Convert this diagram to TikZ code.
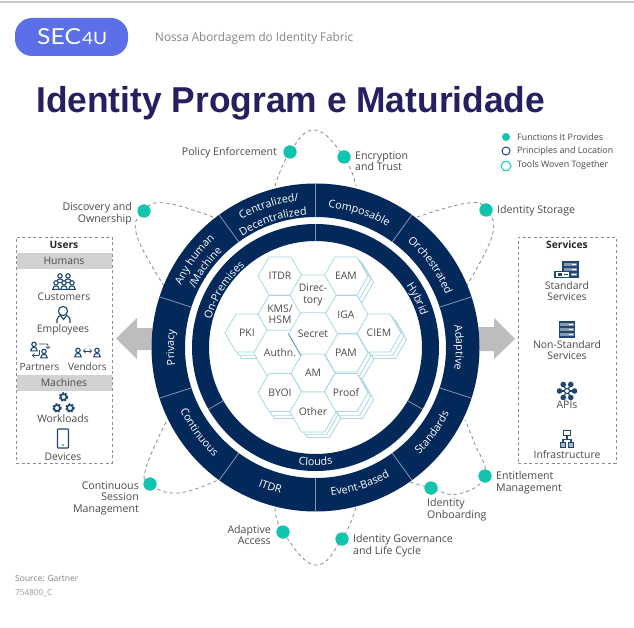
\documentclass[tikz,border=0pt]{standalone}
\usepackage{fontspec}
\usepackage{graphicx}
\setmainfont{Open Sans}
\newfontfamily\titlefont{Liberation Sans}
\newfontfamily\logofont{Lato}
\usetikzlibrary{shapes.geometric,decorations.text}
\definecolor{navy}{HTML}{03295A}
\definecolor{divline}{HTML}{7F95B0}
\definecolor{teal1}{HTML}{10C4AE}
\definecolor{hexline}{HTML}{A9D8E2}
\definecolor{txt}{HTML}{4A4A4A}
\definecolor{titlec}{HTML}{252060}
\definecolor{logoc}{HTML}{5A6FE8}
\definecolor{barc}{HTML}{D2D2D2}
\definecolor{arrowc}{HTML}{BDBDBD}
\definecolor{dashc}{HTML}{8C8C8C}
\definecolor{iconc}{HTML}{1F4673}
\newcommand{\ringfont}{\fontsize{10.8}{12}\selectfont\color{white}}
\newcommand{\ringlabel}[5]{%
  \pgfmathsetmacro\sa{#1+#3*#4}\pgfmathsetmacro\ea{#1-#3*#4}%
  \path[decorate,decoration={text along path,text align=center,text={|\ringfont|#5}}]
    (\sa:#2) arc[start angle=\sa,end angle=\ea,radius=#2];}
\newcommand{\hexback}[3]{% name,x,y : two layers behind
  \node[hexn] (#1b) at (#2+5.6,#3+6.4) {};
  \node[hexn] (#1a) at (#2+2.8,#3+3.2) {};}
\tikzset{
  hexn/.style={regular polygon,regular polygon sides=6,minimum size=44pt,inner sep=0pt,outer sep=0pt,
     draw=hexline,line width=.8pt,fill=white,text=txt,align=center,font=\fontsize{10.4}{11.5}\selectfont},
  lab/.style={inner sep=0pt,text=txt,font=\fontsize{10.6}{11.6}\selectfont},
  boxlab/.style={inner sep=0pt,text=txt,font=\fontsize{10.4}{11.8}\selectfont,align=center},
  legendlab/.style={inner sep=0pt,text=txt,anchor=west,font=\fontsize{8.9}{9}\selectfont},
  tealdot/.style={circle,fill=teal1,minimum size=13pt,inner sep=0pt},
  dashline/.style={draw=dashc,line width=.8pt,dash pattern=on 3.5pt off 3pt},
  boxdash/.style={draw=dashc,line width=.8pt,dash pattern=on 3pt off 2.6pt},
  icon/.style={draw=iconc,line width=1.1pt},
  person/.pic={\draw[icon,fill=white] (-3.2,3.8) .. controls (-3.2,-.8) and (3.2,-.8) .. (3.2,3.8) -- cycle;
     \draw[icon,fill=white] (0,-2.6) circle[radius=2.2];},
  gearicon/.pic={\draw[iconc,line width=1.5pt] (0,0) circle[radius=2.9];
     \draw[iconc,line width=1.4pt,dash pattern=on 1.9pt off 1.5pt] (0,0) circle[radius=4.1];},
  rack/.pic={\draw[icon,fill=iconc!55] (0,0) rectangle (15,15);
     \foreach \r in {5,10}{\draw[icon] (0,\r) -- (15,\r);}
     \foreach \r in {2.5,7.5,12.5}{\draw[white,line width=1pt] (9,\r) -- (13,\r);}},
}
\begin{document}
\begin{tikzpicture}[x=1pt,y=-1pt]
\useasboundingbox (0,0) rectangle (634,628);
\fill[white] (0,0) rectangle (634,628);
\draw[black!22,line width=1.2pt] (0,2) -- (634,2);
% header
\node[fill=logoc,rounded corners=17pt,minimum width=113pt,minimum height=38pt,inner sep=0pt] (logo) at (71.5,37) {};
\node[text=white,inner sep=0pt,anchor=base west] (logotext) at (37,45) {\resizebox{70pt}{\height}{\logofont\fontsize{22}{22}\selectfont SEC\hspace{1pt}\fontsize{17}{17}\selectfont 4U}};
\node[inner sep=0pt,anchor=west,text=black!48] (subtitle) at (155,38) {\fontsize{12}{14}\selectfont\resizebox{198pt}{\height}{Nossa Abordagem do Identity Fabric}};
\node[inner sep=0pt,anchor=base west,text=titlec] (title) at (36,113) {\resizebox{509pt}{\height}{\titlefont\bfseries\fontsize{36}{40}\selectfont Identity Program e Maturidade}};
% legend
\node[circle,fill=teal1,minimum size=8pt,inner sep=0pt] (lg1) at (506,137) {};
\node[circle,draw=iconc,line width=1pt,minimum size=8pt,inner sep=0pt] (lg2) at (506,151) {};
\node[regular polygon,regular polygon sides=6,draw=teal1!75!cyan,line width=1pt,minimum size=10pt,inner sep=0pt] (lg3) at (506,166) {};
\node[legendlab] (lgt1) at (517,137) {Functions It Provides};
\node[legendlab] (lgt2) at (517,151) {Principles and Location};
\node[legendlab] (lgt3) at (517,165) {Tools Woven Together};
% coordinates for loops
\foreach \n/\x/\y in {ta/275/186,tb/315/130,tc/356/186,
  la/213/217,lb/165/203,lc/137/236,ld/168/292,
  ra/417/217,rb/468/203,rc/492/236,rd/463/292,
  bla/166/422,blb/146/468,blc/178/493,bld/218/480,
  ba/275/508,bb/315/565,bc/356/507,
  bra/410/482,brb/458/494,brc/474/442,brd/465/420}{\coordinate (\n) at (\x,\y);}
% teal dots
\node[tealdot] (dPolicy) at (290,152) {};
\node[tealdot] (dEncrypt) at (344,157) {};
\node[tealdot] (dDiscovery) at (144,211) {};
\node[tealdot] (dStorage) at (486,210) {};
\node[tealdot] (dSession) at (150,484) {};
\node[tealdot] (dAdaptive) at (283,532) {};
\node[tealdot] (dGovern) at (342,539) {};
\node[tealdot] (dOnboard) at (431,488) {};
\node[tealdot] (dEntitle) at (485,476) {};
% dashed loops
\draw[dashline] plot[smooth,tension=.75] coordinates {(ta) (dPolicy.center) (tb) (dEncrypt.center) (tc)};
\draw[dashline] plot[smooth,tension=.75] coordinates {(la) (lb) (dDiscovery.center) (lc) (ld)};
\draw[dashline] plot[smooth,tension=.75] coordinates {(ra) (rb) (dStorage.center) (rc) (rd)};
\draw[dashline] plot[smooth,tension=.75] coordinates {(bla) (blb) (dSession.center) (blc) (bld)};
\draw[dashline] plot[smooth,tension=.75] coordinates {(ba) (dAdaptive.center) (bb) (dGovern.center) (bc)};
\draw[dashline] plot[smooth,tension=.75] coordinates {(bra) (dOnboard.center) (brb) (dEntitle.center) (brc) (brd)};
\foreach \d/\x/\y in {dPolicy/290/152,dEncrypt/344/157,dDiscovery/144/211,dStorage/486/210,dSession/150/484,dAdaptive/283/532,dGovern/342/539,dOnboard/431/488,dEntitle/485/476}{\fill[teal1] (\x,\y) circle[radius=6.5];}
% arrows
\fill[arrowc] (160,328) -- (137,328) -- (137,318) -- (116,338.5) -- (137,359) -- (137,350) -- (160,350) -- cycle;
\fill[arrowc] (470,327) -- (494,327) -- (494,318) -- (515,339) -- (494,359) -- (494,351) -- (470,351) -- cycle;
% rings
\begin{scope}[shift={(315.5,347.5)},x=1pt,y=1pt]
  \fill[white] (0,0) circle[radius=164];
  \fill[navy,even odd rule] (0,0) circle[radius=164] (0,0) circle[radius=130.5];
  \fill[navy,even odd rule] (0,0) circle[radius=123.5] (0,0) circle[radius=106.5];
  \foreach \a in {90,126,162,198,234,270,306,342,18,54}{\draw[divline,line width=.8pt] (\a:130.5) -- (\a:164);}
  \foreach \a in {90,210,330}{\draw[divline,line width=.8pt] (\a:106.5) -- (\a:123.5);}
  \ringlabel{108.3}{147.5}{1}{40}{Centralized/}
  \ringlabel{108.6}{133}{1}{40}{Decentralized}
  \ringlabel{144}{148}{1}{40}{Any human}
  \ringlabel{144}{134}{1}{40}{/Machine}
  \ringlabel{72}{140.5}{1}{40}{Composable}
  \ringlabel{35.6}{140.5}{1}{40}{Orchestrated}
  \ringlabel{0}{140.5}{1}{40}{Adaptive}
  \ringlabel{180}{141.5}{1}{40}{Privacy}
  \ringlabel{-36}{149}{-1}{40}{Standards}
  \ringlabel{-72}{149}{-1}{40}{Event-Based}
  \ringlabel{-108}{150}{-1}{40}{ITDR}
  \ringlabel{-144}{149}{-1}{40}{Continuous}
  \ringlabel{148}{108}{1}{40}{On-Premises}
  \ringlabel{25.5}{110}{1}{40}{Hybrid}
  \ringlabel{-90}{118}{-1}{40}{Clouds}
\end{scope}
% hex stacks
\hexback{hEAM}{346}{276}
\hexback{hPKI}{247}{333}
\hexback{hCIEM}{379}{333}
\hexback{hPAM}{346}{353}
\hexback{hBYOI}{280}{393}
\hexback{hProof}{346}{393}
\hexback{hOther}{313}{412}
% hex fronts
\node[hexn] (hITDR) at (280,276) {ITDR};
\node[hexn] (hEAM) at (346,276) {EAM};
\node[hexn] (hPKI) at (247,333) {PKI};
\node[hexn] (hCIEM) at (379,333) {CIEM};
\node[hexn] (hKMS) at (280,314.5) {KMS/\\HSM};
\node[hexn] (hIGA) at (346,314.5) {IGA};
\node[hexn] (hAuth) at (280,353) {Authn.};
\node[hexn] (hPAM) at (346,353) {PAM};
\node[hexn] (hBYOI) at (280,392.5) {BYOI};
\node[hexn] (hProof) at (346,392.5) {Proof};
\node[hexn] (hDir) at (313,295) {Direc-\\tory};
\node[hexn] (hSecret) at (313,334) {Secret};
\node[hexn] (hAM) at (313,373) {AM};
\node[hexn] (hOther) at (313,412) {Other};
\draw[teal1!35!iconc!70!white,line width=.8pt] (hSecret.corner 3) -- (hSecret.corner 4);
% point labels
\node[lab,anchor=east] (tPolicy) at (277,153) {Policy Enforcement};
\node[lab,anchor=west,align=left] (tEncrypt) at (355,161) {Encryption\\and Trust};
\node[lab,anchor=east,align=right] (tDiscovery) at (132,214) {Discovery and\\Ownership};
\node[lab,anchor=west] (tStorage) at (497,210.5) {Identity Storage};
\node[lab,anchor=east,align=right] (tSession) at (139,498) {Continuous\\Session\\Management};
\node[lab,anchor=east,align=right] (tAdaptive) at (271,535) {Adaptive\\Access};
\node[lab,anchor=west,align=left] (tGovern) at (353,546) {Identity Governance\\and Life Cycle};
\node[lab,anchor=west,align=left] (tOnboard) at (427,509.5) {Identity\\Onboarding};
\node[lab,anchor=west,align=left] (tEntitle) at (496,483) {Entitlement\\Management};
% users box
\node[boxdash,draw,minimum width=96pt,minimum height=226pt,inner sep=0pt] (users) at (64,350) {};
\node[fill=barc,minimum width=95pt,minimum height=16pt,inner sep=0pt] (barH) at (64,261) {};
\node[fill=barc,minimum width=95pt,minimum height=16pt,inner sep=0pt] (barM) at (64,383) {};
\node[boxlab,font=\fontsize{10.2}{11}\selectfont\bfseries,text=black!85] (tUsers) at (64,245) {Users};
\node[boxlab] (tHumans) at (64,261) {Humans};
\node[boxlab] (tCustomers) at (64,297) {Customers};
\node[boxlab] (tEmployees) at (63,330) {Employees};
\node[boxlab,font=\fontsize{10}{11.8}\selectfont] (tPartners) at (39.5,367) {Partners};
\node[boxlab,font=\fontsize{10}{11.8}\selectfont] (tVendors) at (87.5,367) {Vendors};
\node[boxlab] (tMachines) at (64,383) {Machines};
\node[boxlab] (tWorkloads) at (63,419) {Workloads};
\node[boxlab] (tDevices) at (63,457) {Devices};
% users icons
\pic at (60,278.5) {person};
\pic at (68,278.5) {person};
\pic at (56,285.5) {person};
\pic at (64,285.5) {person};
\pic at (72,285.5) {person};
\draw[icon] (63,311) circle[radius=4.6];
\draw[icon] (57,323) -- (57,319.5) .. controls (57,316.5) and (60,316) .. (60.5,315.5) -- (63.5,319.5) -- (66.5,315.5) .. controls (67.5,316) and (70,316.5) .. (70,319.5) -- (70,323) ;
\pic at (34,347) {person};
\pic at (44,354) {person};
\draw[icon,->,>=to,line width=.8pt,rounded corners=1pt] (39,344) -- (48,344) -- (48,349);
\draw[icon,->,>=to,line width=.8pt,rounded corners=1pt] (39.5,350) -- (39.5,355.5) -- (32,355.5);
\pic at (78,353) {person};
\pic at (97,353) {person};
\draw[icon,<->,>=to,line width=.8pt] (83,351) -- (92,351);
\pic at (63.5,397) {gearicon};
\pic at (57,408) {gearicon};
\pic at (70,408) {gearicon};
\draw[icon,rounded corners=.6pt] (57.5,429) rectangle (68.5,448);
\fill[iconc] (63,445) circle[radius=.8];
% services box
\node[boxdash,draw,minimum width=98pt,minimum height=226pt,inner sep=0pt] (services) at (567,350) {};
\node[boxlab,font=\fontsize{10.2}{11}\selectfont\bfseries,text=black!85] (tServices) at (567,245) {Services};
\node[boxlab] (tStd) at (567,291) {Standard\\Services};
\node[boxlab] (tNon) at (567,350) {Non-Standard\\Services};
\node[boxlab] (tAPI) at (567,405) {APIs};
\node[boxlab] (tInfra) at (567,455) {Infrastructure};
% services icons
\pic at (563,262) {rack};
\draw[icon,fill=white] (555,271.5) rectangle (570,277.5);
\fill[iconc] (558,273) rectangle (562,276);
\draw[iconc,line width=1pt] (564,274.5) -- (568,274.5);
\pic at (559.5,322) {rack};
% APIs
\foreach \a in {0,60,...,300}{
  \draw[icon] (567,391) -- ++(\a:6.5);
  \fill[iconc] (567,391) ++(\a:7.5) circle[radius=2.8];
}
\draw[icon,fill=white] (567,391) circle[radius=2.6];
% Infrastructure
\draw[icon,fill=white] (563.5,430.5) rectangle (570.5,435.5);
\draw[icon] (567,435.5) -- (567,439.5) (563,442.5) -- (563,439.5) -- (571,439.5) -- (571,442.5);
\draw[icon,fill=iconc!40] (560.5,442.5) rectangle (565.5,447.5);
\draw[icon,fill=iconc!40] (568.5,442.5) rectangle (573.5,447.5);
% source
\node[inner sep=0pt,anchor=west,text=black!48,font=\fontsize{8.5}{10}\selectfont] (tSource) at (15,578) {Source: Gartner};
\node[inner sep=0pt,anchor=west,text=black!40,font=\fontsize{8.2}{10}\selectfont] (tId) at (15,593) {754800\_C};
\end{tikzpicture}
\end{document}
